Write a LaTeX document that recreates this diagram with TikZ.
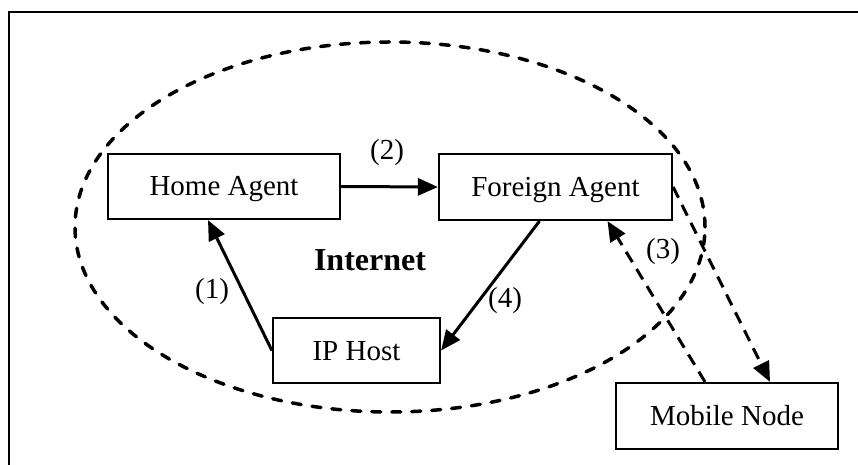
\documentclass[tikz,border=0pt]{standalone}
\usepackage{fontspec}
\setmainfont{Liberation Serif}
\usetikzlibrary{arrows.meta}
\begin{document}
\begin{tikzpicture}[x=1bp,y=-1bp,
  box/.style={draw, line width=2.2bp, inner sep=0pt,
    font=\fontsize{29bp}{34bp}\selectfont, text height=19bp, text depth=0pt},
  lbl/.style={inner sep=0pt, font=\fontsize{29bp}{34bp}\selectfont},
  flow/.style={line width=3bp, -{Triangle[length=20bp,width=17bp]}},
  dflow/.style={flow, dash pattern=on 12bp off 8bp},
  netborder/.style={line width=3.5bp, dash pattern=on 9bp off 11bp, line cap=round}]
  \useasboundingbox (0,0) rectangle (858,465);

  % outer frame (top and left edges)
  \draw[line width=2.2bp] (9,465) -- (9,12) -- (858,12);

  % the Internet region
  \draw[netborder] (390,227) ellipse [x radius=315bp, y radius=185bp];
  \node[font=\fontsize{32bp}{38bp}\selectfont\bfseries, inner sep=0pt] (net) at (370,260) {Internet};

  % agents and hosts
  \node[box, minimum width=232bp, minimum height=65bp] (ha) at (224,186.5) {Home Agent};
  \node[box, minimum width=233bp, minimum height=66bp] (fa) at (555.5,187) {Foreign Agent};
  \node[box, minimum width=167bp, minimum height=65bp] (ip) at (356.5,350.5) {IP Host};
  \node[box, minimum width=222bp, minimum height=66bp] (mn) at (727,416) {Mobile Node};

  % message flow
  \draw[flow] (ip.west) -- ([xshift=-16bp]ha.south);
  \draw[flow] (ha.east) -- (fa.west);
  \draw[flow] ([xshift=-16bp]fa.south) -- (ip.east);
  \draw[dflow] ([xshift=-22bp]mn.north) -- ([xshift=52bp]fa.south);
  \draw[dflow] (fa.east) -- ([xshift=43bp]mn.north);

  % step numbers
  \node[lbl] (l1) at (212,292) {(1)};
  \node[lbl] (l2) at (387,153) {(2)};
  \node[lbl] (l3) at (663,252) {(3)};
  \node[lbl] (l4) at (505,301) {(4)};
\end{tikzpicture}
\end{document}
